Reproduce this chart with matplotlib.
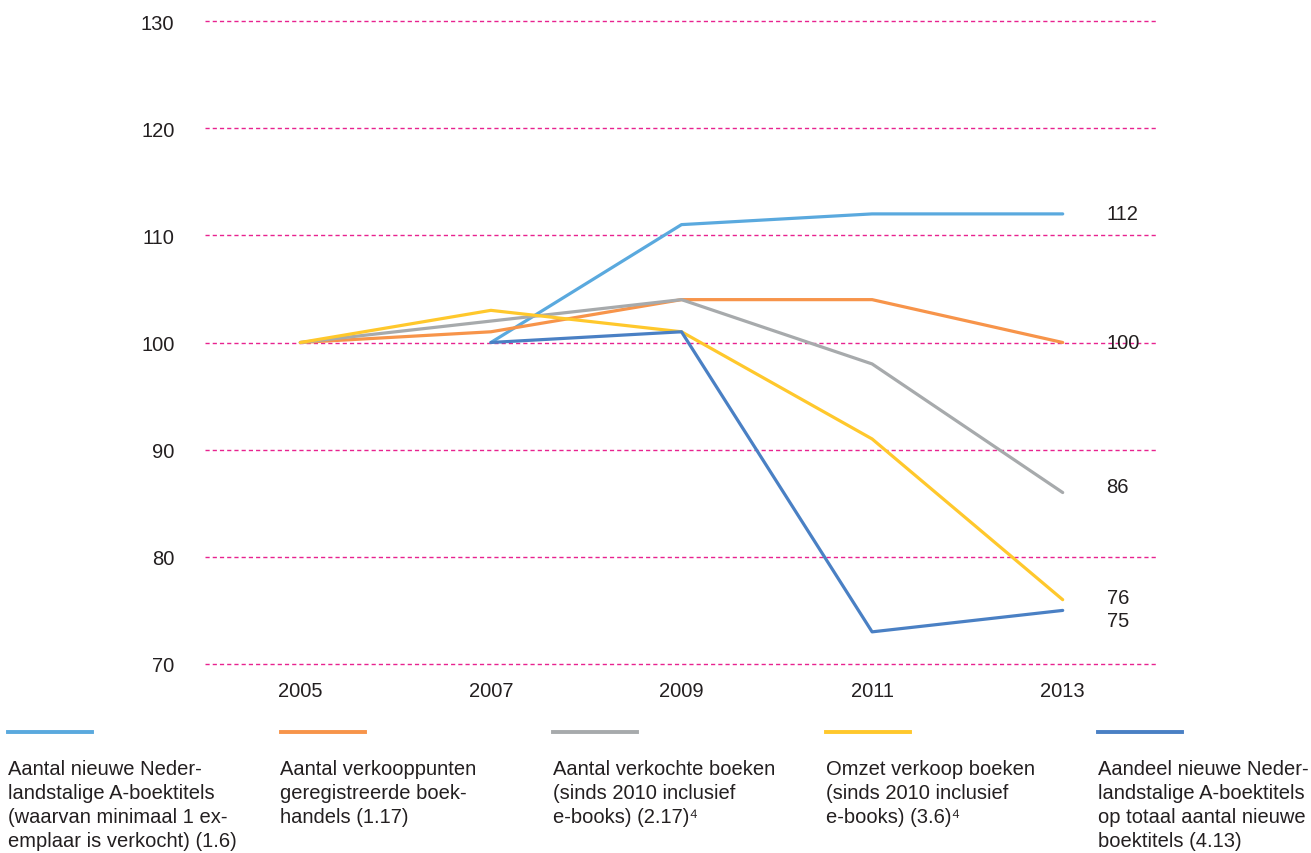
import matplotlib
matplotlib.use('Agg')
import matplotlib.pyplot as plt
from matplotlib.lines import Line2D

plt.rcParams['font.family'] = ['Liberation Sans', 'DejaVu Sans']

# ============ data ============
years = [2005, 2007, 2009, 2011, 2013]
nieuwe_titels = [None, 100, 111, 112, 112]
verkooppunten = [100, 101, 104, 104, 100]
verkochte_boeken = [100, 102, 104, 98, 86]
omzet = [100, 103, 101, 91, 76]
aandeel_titels = [None, 100, 101, 73, 75]

series = [nieuwe_titels, verkooppunten, verkochte_boeken, omzet, aandeel_titels]
colors = ['#5AA9DE', '#F7944A', '#A7AAAC', '#FFC82C', '#4A80C4']
legend_labels = [
    'Aantal nieuwe Neder-\nlandstalige A-boektitels\n(waarvan minimaal 1 ex-\nemplaar is verkocht) (1.6)',
    'Aantal verkooppunten\ngeregistreerde boek-\nhandels (1.17)',
    'Aantal verkochte boeken\n(sinds 2010 inclusief\ne-books) (2.17)\u2074',
    'Omzet verkoop boeken\n(sinds 2010 inclusief\ne-books) (3.6)\u2074',
    'Aandeel nieuwe Neder-\nlandstalige A-boektitels\nop totaal aantal nieuwe\nboektitels (4.13)',
]
end_labels = ['112', '100', '86', '76', '75']
end_label_y = [112, 100, 86.6, 76.2, 74.1]
yticks = [70, 80, 90, 100, 110, 120, 130]
# ==============================

TXT = '#231F20'
FS = 14.5
W, H = 1311, 854
fig = plt.figure(figsize=(W / 100, H / 100), dpi=100)
ax = fig.add_axes([205 / W, 1 - 665 / H, (1158 - 205) / W, (665 - 22) / H])

for vals, c in zip(series, colors):
    xs = [x for x, v in zip(years, vals) if v is not None]
    ys = [v for v in vals if v is not None]
    ax.plot(xs, ys, color=c, linewidth=2.3, solid_capstyle='round', zorder=3)

for yv in yticks:
    ax.axhline(yv, color='#E8238F', linewidth=1.0, linestyle=(0, (3, 2.2)),
               zorder=1, clip_on=False)

for lab, yv in zip(end_labels, end_label_y):
    ax.text(2013.46, yv, lab, fontsize=FS, color=TXT, va='center', ha='left', zorder=4)

ax.set_xlim(2004, 2014)
ax.set_ylim(70, 130)
ax.set_xticks(years)
ax.set_yticks(yticks)
ax.tick_params(length=0, labelsize=FS, colors=TXT)
ax.tick_params(axis='y', pad=22)
ax.tick_params(axis='x', pad=12)
for s in ax.spines.values():
    s.set_visible(False)

# legend below the chart
for i, (c, lab) in enumerate(zip(colors, legend_labels)):
    x0 = 8 + i * 272.5
    fig.add_artist(Line2D([x0 / W, (x0 + 84) / W], [1 - 733 / H, 1 - 733 / H],
                          color=c, linewidth=2.8, transform=fig.transFigure))
    fig.text(x0 / W, 1 - 760 / H, lab, fontsize=FS, color=TXT,
             va='top', ha='left', linespacing=1.33)

fig.savefig('out.png', dpi=100)
